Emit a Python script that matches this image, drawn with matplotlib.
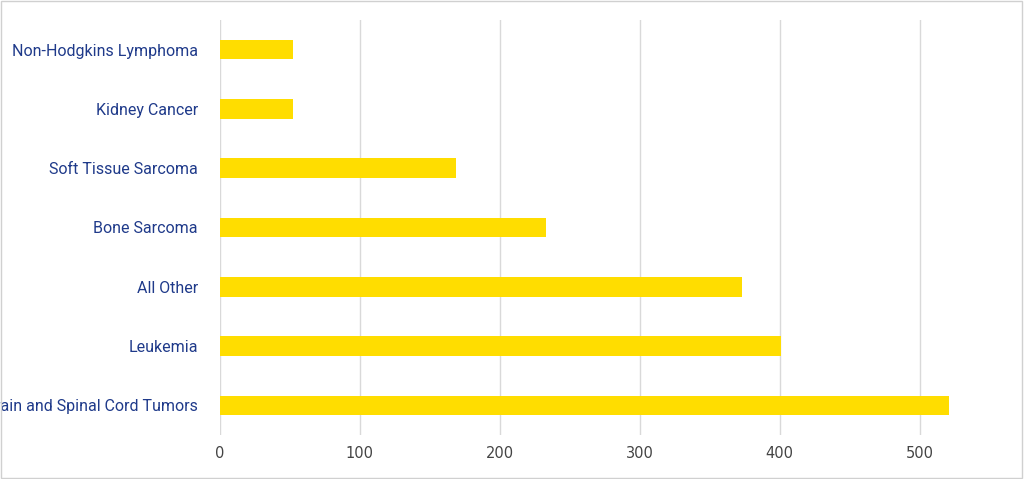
import matplotlib
matplotlib.use("Agg")
import matplotlib.pyplot as plt

categories = ["Brain and Spinal Cord Tumors", "Leukemia", "All Other", "Bone Sarcoma",
              "Soft Tissue Sarcoma", "Kidney Cancer", "Non-Hodgkins Lymphoma"]
values = [521, 401, 373, 233, 169, 52, 52]
ticks = [0, 100, 200, 300, 400, 500]

fig = plt.figure(figsize=(10.24, 4.79), dpi=100)
ax = fig.add_axes([220/1024, 1-435/479, 785/1024, 415/479])
ax.barh(range(len(categories)), values, height=0.33, color="#FFDD00", zorder=2)
ax.set_yticks(range(len(categories)))
ax.set_yticklabels(categories, color="#1F3A8A", fontsize=11.5,
                   family=["Liberation Sans Narrow", "Roboto", "DejaVu Sans"])
ax.set_xticks(ticks)
ax.tick_params(axis="x", colors="#444444", labelsize=10.5, length=0, pad=8)
ax.tick_params(axis="y", length=0, pad=16)
ax.set_xlim(0, 561)
ax.set_ylim(-0.5, 6.5)
ax.grid(axis="x", color="#D9D9D9", linewidth=1, zorder=0)
for s in ["top", "right", "left", "bottom"]:
    ax.spines[s].set_visible(False)
fig.patches.append(plt.Rectangle((0.001, 0.002), 0.997, 0.996, transform=fig.transFigure,
                                 fill=False, edgecolor="#D0D0D0", linewidth=1))
fig.savefig("out.png", dpi=100)
